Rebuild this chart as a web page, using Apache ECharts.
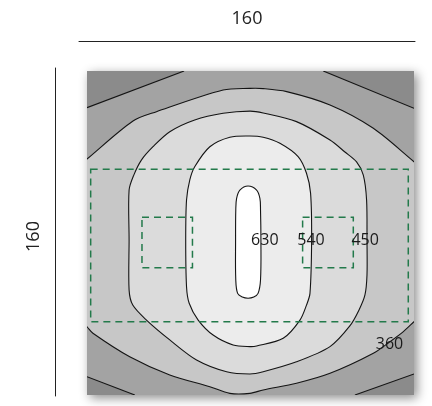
<!DOCTYPE html>
<html><head><meta charset="utf-8">
<script src="https://cdn.jsdelivr.net/npm/echarts@6/dist/echarts.min.js"></script>
<style>html,body{margin:0;padding:0;background:#fff}#chart{width:432px;height:406px}</style>
</head><body><div id="chart"></div>
<script>
// Room dimensions (both sides 160)
const roomWidth = 160;
const roomDepth = 160;
const dimensionLabels = ['160', '160'];

// Isolux contour lines (room coordinates, origin bottom-left)
const contour630 = [[78.8,103.2],[83.0,101.2],[84.6,97.1],[84.9,91.4],[85.1,76.5],[84.9,56.8],[83.7,50.2],[81.6,48.4],[78.8,47.8],[76.0,48.4],[73.7,50.2],[72.8,56.8],[72.7,76.5],[72.8,91.4],[73.2,97.1],[74.8,101.2]];
const contour540 = [[79.7,127.9],[86.2,127.3],[94.4,124.3],[103.3,117.7],[107.4,109.5],[109.4,99.6],[109.9,76.5],[109.1,50.2],[107.4,44.4],[104.2,37.0],[96.0,28.0],[83.0,24.2],[79.7,23.9],[71.5,24.7],[61.7,29.6],[54.4,37.0],[50.0,45.3],[48.7,53.5],[48.3,76.5],[48.7,96.3],[50.3,106.2],[52.7,112.7],[60.1,122.6],[69.9,127.3]];
const contour450 = [[79.7,140.2],[86.2,139.3],[102.5,135.0],[118.9,125.9],[126.2,120.0],[131.9,115.1],[135.2,108.6],[136.8,96.3],[137.0,76.5],[137.0,59.3],[136.0,49.4],[133.1,42.0],[128.6,34.1],[118.9,23.9],[102.5,16.4],[86.2,11.5],[79.7,10.4],[68.3,11.5],[53.6,17.3],[40.5,27.2],[29.1,37.0],[22.4,44.4],[20.6,51.8],[20.6,76.5],[20.6,101.2],[22.9,108.6],[26.6,116.0],[32.3,122.6],[40.5,130.0],[52.7,135.8],[66.6,139.1]];
const contour360Top = [[-8,109.8],[0,116.5],[22.5,135.3],[34.0,139.9],[66.6,150.6],[79.7,151.4],[86.2,151.3],[97.7,149.8],[118.9,143.2],[140.1,131.7],[160,115.2],[168,108.6]];
const contour360Bottom = [[168,43.7],[160,36.2],[154.8,31.3],[148.2,26.3],[140.1,20.6],[118.9,10.7],[102.5,5.8],[86.2,2.5],[79.7,0.8],[69.9,0.8],[60.1,4.1],[40.5,9.9],[20.9,18.9],[2.9,30.5],[0,33.7],[-8,42]];
const contour270TL = [[0,141.9],[47.5,160]];
const contour270TR = [[115.6,160],[160,141.6]];
const contour270BR = [[160,10.4],[131.1,0]];
const contour270BL = [[23.4,0],[0,9.0]];

// Contour labels
const labelValues = [630, 540, 450, 360];
const labelX = [87.0, 109.6, 136.1, 148.0];
const labelY = [76.1, 76.1, 76.1, 25.2];

// Work areas (dashed) [x1, y1, x2, y2]
const zoneRects = [[1.8,36.2,157.2,111.5],[26.9,62.9,51.6,87.8],[105.5,62.9,130.3,87.8]];

const bandColors = ['#8b8b8b','#a3a3a3','#c7c7c7','#dbdbdb','#ececec','#ffffff'];

const bands = [
  { points: contour270TL.concat(contour270TR, contour270BR, contour270BL), color: bandColors[1], smooth: 0, stroke: false },
  { points: contour360Top.concat(contour360Bottom), color: bandColors[2], smooth: 0.3, stroke: false },
  { points: contour450, color: bandColors[3], smooth: 0.3, stroke: true },
  { points: contour540, color: bandColors[4], smooth: 0.3, stroke: true },
  { points: contour630, color: bandColors[5], smooth: 0.35, stroke: true }
];
const openLines = [
  { points: contour360Top, smooth: 0.3 },
  { points: contour360Bottom, smooth: 0.3 },
  { points: contour270TL, smooth: 0 },
  { points: contour270TR, smooth: 0 },
  { points: contour270BR, smooth: 0 },
  { points: contour270BL, smooth: 0 }
];

const lineColor = '#141414';
const chart = echarts.init(document.getElementById('chart'), null, { renderer: 'canvas' });
const hidden = { show: false };
chart.setOption({
  animation: false,
  backgroundColor: '#ffffff',
  grid: [
    { left: 87, top: 71, width: 327, height: 324, show: true, backgroundColor: bandColors[0], borderWidth: 0,
      shadowBlur: 10, shadowColor: 'rgba(0,0,0,0.45)', shadowOffsetX: 3, shadowOffsetY: 3 },
    { left: 79, top: 40, width: 336, height: 1 },
    { left: 55, top: 68, width: 1, bottom: 10 }
  ],
  xAxis: [
    { gridIndex: 0, type: 'value', min: 0, max: roomWidth, show: false },
    { gridIndex: 1, type: 'value', min: 0, max: roomWidth, position: 'top',
      axisLine: { show: true, lineStyle: { color: '#222', width: 1 } }, axisTick: hidden, axisLabel: hidden, splitLine: hidden,
      name: dimensionLabels[0], nameLocation: 'middle', nameGap: 12,
      nameTextStyle: { fontSize: 18, fontFamily: 'Open Sans', color: '#222' } },
    { gridIndex: 2, type: 'value', show: false }
  ],
  yAxis: [
    { gridIndex: 0, type: 'value', min: 0, max: roomDepth, show: false },
    { gridIndex: 1, type: 'value', show: false },
    { gridIndex: 2, type: 'value', min: 0, max: roomDepth, position: 'left',
      axisLine: { show: true, lineStyle: { color: '#222', width: 1 } }, axisTick: hidden, axisLabel: hidden, splitLine: hidden,
      name: dimensionLabels[1], nameLocation: 'middle', nameGap: 12, nameRotate: 90,
      nameTextStyle: { fontSize: 18, fontFamily: 'Open Sans', color: '#222', padding: [0, 9, 0, 0] } }
  ],
  series: [
    {
      type: 'custom', xAxisIndex: 0, yAxisIndex: 0, clip: true, silent: true,
      data: bands.map((b, i) => [i]),
      renderItem: function (params, api) {
        const b = bands[params.dataIndex];
        return {
          type: 'polygon',
          shape: { points: b.points.map(p => api.coord(p)), smooth: b.smooth },
          style: { fill: b.color, stroke: b.stroke ? lineColor : null, lineWidth: 1.1 }
        };
      }
    },
    {
      type: 'custom', xAxisIndex: 0, yAxisIndex: 0, clip: true, silent: true,
      data: openLines.map((l, i) => [i]),
      renderItem: function (params, api) {
        const l = openLines[params.dataIndex];
        return {
          type: 'polyline',
          shape: { points: l.points.map(p => api.coord(p)), smooth: l.smooth },
          style: { fill: null, stroke: lineColor, lineWidth: 1.1 }
        };
      }
    },
    {
      type: 'custom', xAxisIndex: 0, yAxisIndex: 0, clip: true, silent: true,
      data: zoneRects,
      renderItem: function (params, api) {
        const r = zoneRects[params.dataIndex];
        const p1 = api.coord([r[0], r[3]]);
        const p2 = api.coord([r[2], r[1]]);
        return {
          type: 'rect',
          shape: { x: p1[0], y: p1[1], width: p2[0] - p1[0], height: p2[1] - p1[1] },
          style: { fill: null, stroke: '#237a4b', lineWidth: 1.5, lineDash: [7, 5] }
        };
      }
    },
    {
      type: 'custom', xAxisIndex: 0, yAxisIndex: 0, silent: true,
      data: labelValues.map((v, i) => [labelX[i], labelY[i], v]),
      renderItem: function (params, api) {
        const p = api.coord([api.value(0), api.value(1)]);
        return {
          type: 'text', x: p[0], y: p[1],
          style: { text: String(api.value(2)), fontSize: 16, fontFamily: 'Open Sans', fill: '#1a1a1a', align: 'center', verticalAlign: 'middle' }
        };
      }
    }
  ]
});
</script></body></html>
